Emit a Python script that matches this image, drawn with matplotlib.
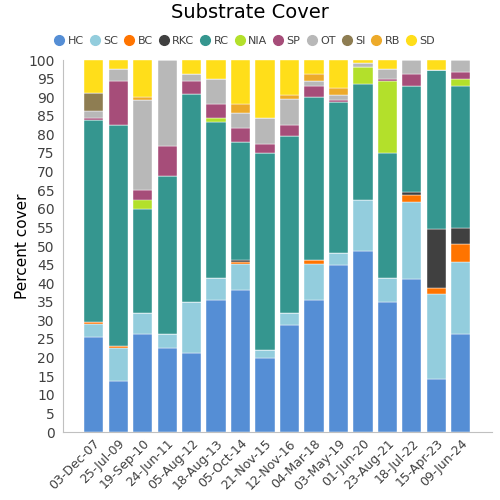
import matplotlib.pyplot as plt
from matplotlib.lines import Line2D
import numpy as np

dates = ["03-Dec-07", "25-Jul-09", "19-Sep-10", "24-Jun-11", "05-Aug-12", "18-Aug-13",
         "05-Oct-14", "21-Nov-15", "12-Nov-16", "04-Mar-18", "03-May-19", "01-Jun-20",
         "23-Aug-21", "18-Jul-22", "15-Apr-23", "09-Jun-24"]

categories = ["HC", "SC", "BC", "RKC", "RC", "NIA", "SP", "OT", "SI", "RB", "SD"]
colors = ["#558ED5", "#93CDDD", "#FF7400", "#404040", "#35968F", "#B3E02B",
          "#A64D79", "#B8B8B8", "#8E7D52", "#EDAA2A", "#FFDE1A"]

# % cover per category, one value per survey date
HC = [25.6, 13.8, 26.3, 22.5, 21.3, 35.6, 38.1, 20.0, 28.8, 35.6, 45.0, 48.7, 35.0, 41.1, 14.3, 26.3]
SC = [3.3, 8.9, 5.7, 3.8, 13.7, 5.8, 7.1, 2.0, 3.2, 9.6, 3.1, 13.8, 6.3, 20.8, 22.7, 19.4]
BC = [0.6, 0.5, 0, 0, 0, 0, 0.5, 0, 0, 1.1, 0, 0, 0, 1.9, 1.8, 4.9]
RKC = [0, 0, 0, 0, 0, 0, 0.5, 0, 0, 0, 0, 0, 0, 0.6, 15.7, 4.3]
RC = [54.3, 59.3, 28.0, 42.4, 55.8, 41.8, 31.8, 53.1, 47.5, 43.8, 40.7, 31.1, 33.8, 28.7, 42.9, 38.2]
NIA = [0, 0, 2.5, 0, 0, 1.2, 0, 0, 0, 0, 0, 4.6, 19.3, 0, 0, 1.9]
SP = [0.6, 11.9, 2.5, 8.3, 3.6, 3.7, 3.8, 2.4, 3.0, 2.9, 0.4, 0, 0.5, 3.1, 0, 1.9]
OT = [2.0, 3.1, 24.3, 23.0, 1.8, 6.9, 3.9, 6.9, 6.9, 1.4, 1.4, 1.1, 2.6, 3.8, 0, 3.1]
SI = [4.8, 0, 0, 0, 0, 0, 0, 0, 0, 0, 0, 0, 0, 0, 0, 0]
RB = [0, 0, 0.7, 0, 0, 0, 2.4, 0, 1.2, 1.8, 1.9, 0, 0, 0, 0, 0]
SD = [8.8, 2.5, 10.0, 0, 3.8, 5.0, 11.9, 15.6, 9.4, 3.8, 7.5, 0.7, 2.5, 0, 2.6, 0]

series = [HC, SC, BC, RKC, RC, NIA, SP, OT, SI, RB, SD]

fig = plt.figure(figsize=(5, 5), dpi=100)
ax = fig.add_axes([0.126, 0.136, 0.858, 0.744])

x = np.arange(len(dates))
bottom = np.zeros(len(dates))
for name, vals, c in zip(categories, series, colors):
    vals = np.array(vals)
    ax.bar(x, vals, bottom=bottom, width=0.78, color=c, edgecolor="#ffffff", linewidth=0.3)
    bottom += vals

ax.set_xlim(-1.25, 16.27)
ax.set_ylim(0, 100)
ax.set_yticks(range(0, 101, 5))
ax.set_xticks(x)
ax.set_xticklabels(dates, rotation=45, ha="right", rotation_mode="anchor", fontsize=9, color="#404040")
ax.tick_params(axis="both", length=0, labelsize=9, labelcolor="#404040")
ax.tick_params(axis="y", labelsize=10, pad=6)
for s in ["top", "right"]:
    ax.spines[s].set_visible(False)
for s in ["left", "bottom"]:
    ax.spines[s].set_color("#c0c0c0")

ax.set_ylabel("Percent cover", fontsize=11, labelpad=-1)

handles = [Line2D([], [], marker="o", ls="", markersize=7, markerfacecolor=c, markeredgecolor=c)
           for c in colors]
fig.legend(handles, categories, loc="center", bbox_to_anchor=(0.49, 0.918), ncol=11, frameon=False,
           handlelength=0.8, handletextpad=0.35, columnspacing=0.6, fontsize=8,
           labelcolor="#404040", borderaxespad=0)

fig.suptitle("Substrate Cover", fontsize=14, y=0.995, va="top")

fig.savefig("out.png", dpi=100)
